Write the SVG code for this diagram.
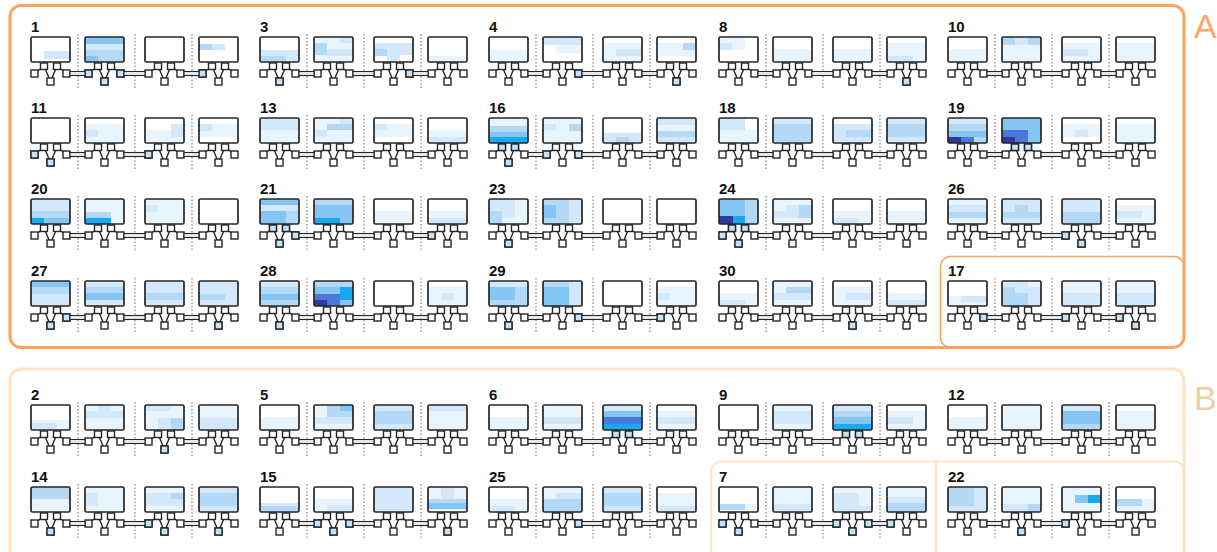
<svg xmlns="http://www.w3.org/2000/svg" width="1217" height="552" viewBox="0 0 1217 552">
<style>
.box{fill:none;stroke:#262626;stroke-width:1.7}
.sq{fill:#fff;stroke:#262626;stroke-width:1.4}
.sqb{fill:#c4e2f8;stroke:#262626;stroke-width:1.4}
.ln{fill:none;stroke:#262626;stroke-width:1.4}
.dot{stroke:#777;stroke-width:1.1;stroke-dasharray:1.5 2}
.bar{fill:#eeeeee;stroke:#262626;stroke-width:1.1}
.lbl{font-family:"Liberation Sans",Arial,sans-serif;font-weight:bold;font-size:15px;fill:#111}
.grp{font-family:"Liberation Sans",Arial,sans-serif;font-size:34px}
.c1{fill:#e8f4fe}.c2{fill:#d3e9fb}.c3{fill:#b3d9f7}.c4{fill:#84c5f2}.c5{fill:#19a8f2}.c6{fill:#2e3aa0}.c7{fill:#4a78dc}
</style>
<defs>
<g id="u">
<path class="ln" d="M13 29 L3.5 36.5 M13 29 L19.5 44.5 M26 29 L35.5 36.5 M26 29 L19.5 44.5"/>
<rect class="box" x="0" y="0" width="39" height="25" rx="1.5"/>
<rect class="sq" x="9.5" y="26" width="7" height="6.5"/>
<rect class="sq" x="22.5" y="26" width="7" height="6.5"/>
<rect class="sq" x="0" y="33" width="7" height="7"/>
<rect class="sq" x="32" y="33" width="7" height="7"/>
<rect class="sq" x="16" y="41" width="7" height="7"/>
</g>
<rect id="bL" class="sqb" x="0" y="33" width="7" height="7"/>
<rect id="bR" class="sqb" x="32" y="33" width="7" height="7"/>
<rect id="bC" class="sqb" x="16" y="41" width="7" height="7"/>
<rect id="bPa" class="sqb" x="9.5" y="26" width="7" height="6.5"/>
<rect id="bPb" class="sqb" x="22.5" y="26" width="7" height="6.5"/>
<g id="set">
<line class="dot" x1="47" y1="-3" x2="47" y2="53"/>
<line class="dot" x1="104" y1="-3" x2="104" y2="53"/>
<line class="dot" x1="161" y1="-3" x2="161" y2="53"/>
<use href="#u" x="0" y="0"/>
<use href="#u" x="54" y="0"/>
<use href="#u" x="114" y="0"/>
<use href="#u" x="168" y="0"/>
</g>
<g id="bars">
<rect class="bar" x="39" y="34.5" width="15" height="4"/>
<rect class="bar" x="93" y="34.5" width="21" height="4"/>
<rect class="bar" x="153" y="34.5" width="15" height="4"/>
</g>
</defs>

<g id="group-A">
<rect x="10" y="5.5" width="1174" height="342" rx="11" fill="none" stroke="#f8a560" stroke-width="3"/>
<rect x="940.5" y="256.5" width="243.5" height="91" rx="10" fill="none" stroke="#f8a560" stroke-width="1.5"/>
<text class="grp" x="1194" y="38" fill="#f9a86b">A</text>
</g>
<g id="group-B">
<rect x="10" y="369" width="1174" height="200" rx="11" fill="none" stroke="#fde4c4" stroke-width="3"/>
<rect x="711" y="461.5" width="473" height="110" rx="10" fill="none" stroke="#fde0bb" stroke-width="1.5"/>
<line x1="936" y1="461.5" x2="936" y2="552" stroke="#fde0bb" stroke-width="1.5"/>
<text class="grp" x="1194" y="410" fill="#ebcfa5">B</text>
</g>

<!-- Row A1 -->
<g id="cell-1" transform="translate(31,37)"><text class="lbl" x="0" y="-5">1</text>
<rect class="c2" x="13" y="14" width="26" height="8"/>
<rect class="c4" x="54" y="0" width="39" height="7"/><rect class="c2" x="54" y="7" width="39" height="6"/><rect class="c3" x="54" y="13" width="39" height="12"/><rect class="c4" x="54" y="19" width="13" height="6"/>
<rect class="c3" x="168" y="7" width="13" height="6"/><rect class="c2" x="181" y="7" width="13" height="6"/>
<use href="#set"/><use href="#bL" x="54"/><use href="#bR" x="54"/><use href="#bC" x="54"/><use href="#bL" x="168"/></g>
<g id="cell-3" transform="translate(260,37)"><text class="lbl" x="0" y="-5">3</text>
<rect class="c2" x="0" y="13" width="39" height="12"/><rect class="c3" x="0" y="19" width="26" height="6"/>
<rect class="c1" x="54" y="0" width="39" height="25"/><rect class="c3" x="54" y="6" width="13" height="12"/><rect class="c2" x="67" y="12" width="26" height="7"/><rect class="c2" x="80" y="0" width="13" height="6"/>
<rect class="c2" x="114" y="6" width="39" height="12"/><rect class="c3" x="114" y="12" width="13" height="7"/><rect class="c2" x="127" y="18" width="13" height="7"/>
<rect class="c1" x="168" y="19" width="39" height="6"/>
<use href="#set"/><use href="#bR" x="114"/><use href="#bC" x="0"/></g>
<g id="cell-4" transform="translate(489,37)"><text class="lbl" x="0" y="-5">4</text>
<rect class="c1" x="0" y="13" width="39" height="12"/>
<rect class="c2" x="54" y="0" width="39" height="8"/><rect class="c1" x="67" y="8" width="26" height="8"/>
<rect class="c1" x="114" y="6" width="39" height="19"/><rect class="c2" x="127" y="12" width="26" height="7"/>
<rect class="c1" x="168" y="6" width="39" height="13"/><rect class="c3" x="194" y="6" width="13" height="7"/>
<use href="#set"/><use href="#bR" x="54"/><use href="#bC" x="168"/></g>
<g id="cell-8" transform="translate(719,37)"><text class="lbl" x="0" y="-5">8</text>
<rect class="c1" x="0" y="0" width="26" height="13"/><rect class="c2" x="0" y="6" width="13" height="7"/>
<rect class="c1" x="54" y="12" width="39" height="13"/>
<rect class="c1" x="114" y="12" width="39" height="13"/>
<rect class="c1" x="168" y="6" width="39" height="19"/><rect class="c2" x="168" y="19" width="26" height="6"/>
<use href="#set"/><use href="#bC" x="168"/></g>
<g id="cell-10" transform="translate(948,37)"><text class="lbl" x="0" y="-5">10</text>
<rect class="c1" x="0" y="12" width="39" height="13"/>
<rect class="c3" x="54" y="0" width="39" height="8"/><rect class="c1" x="54" y="8" width="39" height="17"/><rect class="c2" x="67" y="0" width="13" height="8"/>
<rect class="c1" x="114" y="6" width="39" height="19"/><rect class="c2" x="114" y="12" width="26" height="7"/>
<rect class="c1" x="168" y="6" width="39" height="19"/>
<use href="#set"/></g>

<!-- Row A2 -->
<g id="cell-11" transform="translate(31,118)"><text class="lbl" x="0" y="-5">11</text>
<rect class="c1" x="54" y="6" width="39" height="19"/><rect class="c2" x="54" y="12" width="13" height="7"/>
<rect class="c1" x="114" y="12" width="39" height="13"/><rect class="c2" x="140" y="6" width="13" height="13"/>
<rect class="c1" x="168" y="6" width="39" height="13"/><rect class="c2" x="168" y="6" width="13" height="7"/>
<use href="#set"/><use href="#bL" x="0"/><use href="#bC" x="0"/><use href="#bL" x="114"/></g>
<g id="cell-13" transform="translate(260,118)"><text class="lbl" x="0" y="-5">13</text>
<rect class="c2" x="0" y="0" width="39" height="12"/><rect class="c1" x="0" y="12" width="39" height="13"/>
<rect class="c1" x="54" y="0" width="39" height="25"/><rect class="c3" x="67" y="6" width="26" height="6"/><rect class="c2" x="80" y="0" width="13" height="6"/><rect class="c2" x="54" y="12" width="13" height="7"/>
<rect class="c1" x="114" y="6" width="39" height="13"/><rect class="c2" x="114" y="6" width="13" height="6"/>
<rect class="c1" x="168" y="12" width="39" height="13"/><rect class="c2" x="168" y="19" width="39" height="6"/>
<use href="#set"/></g>
<g id="cell-16" transform="translate(489,118)"><text class="lbl" x="0" y="-5">16</text>
<rect class="c1" x="0" y="0" width="39" height="8"/><rect class="c3" x="0" y="8" width="39" height="6"/><rect class="c4" x="0" y="14" width="39" height="5"/><rect class="c5" x="0" y="19" width="39" height="6"/>
<rect class="c1" x="54" y="0" width="39" height="25"/><rect class="c2" x="54" y="6" width="13" height="6"/><rect class="c3" x="80" y="6" width="13" height="7"/>
<rect class="c2" x="114" y="15" width="39" height="10"/><rect class="c3" x="127" y="19" width="13" height="6"/>
<rect class="c2" x="168" y="0" width="39" height="7"/><rect class="c1" x="168" y="7" width="39" height="6"/><rect class="c3" x="168" y="13" width="39" height="6"/><rect class="c2" x="168" y="19" width="39" height="6"/>
<use href="#set"/><use href="#bPa" x="0"/><use href="#bPb" x="0"/><use href="#bC" x="0"/><use href="#bL" x="54"/><use href="#bR" x="54"/></g>
<g id="cell-18" transform="translate(719,118)"><text class="lbl" x="0" y="-5">18</text>
<rect class="c2" x="0" y="0" width="26" height="12"/><rect class="c1" x="0" y="12" width="39" height="13"/>
<rect class="c3" x="54" y="0" width="39" height="25"/><rect class="c2" x="54" y="0" width="39" height="6"/>
<rect class="c2" x="114" y="6" width="39" height="19"/><rect class="c3" x="127" y="12" width="26" height="7"/>
<rect class="c2" x="168" y="0" width="39" height="25"/><rect class="c3" x="168" y="6" width="39" height="13"/>
<use href="#set"/></g>
<g id="cell-19" transform="translate(948,118)"><text class="lbl" x="0" y="-5">19</text>
<rect class="c3" x="0" y="0" width="39" height="25"/><rect class="c2" x="0" y="0" width="39" height="6"/><rect class="c4" x="0" y="13" width="39" height="6"/><rect class="c6" x="0" y="19" width="13" height="6"/><rect class="c7" x="13" y="19" width="13" height="6"/>
<rect class="c4" x="54" y="0" width="39" height="25"/><rect class="c7" x="54" y="12" width="26" height="13"/><rect class="c6" x="54" y="19" width="13" height="6"/>
<rect class="c1" x="114" y="6" width="39" height="13"/><rect class="c2" x="127" y="12" width="13" height="7"/>
<rect class="c1" x="168" y="6" width="39" height="19"/>
<use href="#set"/><use href="#bPa" x="54"/><use href="#bPb" x="54"/></g>

<!-- Row A3 -->
<g id="cell-20" transform="translate(31,199)"><text class="lbl" x="0" y="-5">20</text>
<rect class="c2" x="0" y="0" width="39" height="12"/><rect class="c3" x="0" y="12" width="39" height="7"/><rect class="c4" x="0" y="19" width="39" height="6"/><rect class="c5" x="0" y="19" width="13" height="6"/>
<rect class="c1" x="54" y="0" width="39" height="25"/><rect class="c3" x="54" y="13" width="26" height="6"/><rect class="c5" x="54" y="19" width="26" height="6"/>
<rect class="c1" x="114" y="0" width="39" height="25"/><rect class="c2" x="114" y="6" width="13" height="7"/>
<use href="#set"/></g>
<g id="cell-21" transform="translate(260,199)"><text class="lbl" x="0" y="-5">21</text>
<rect class="c3" x="0" y="0" width="39" height="25"/><rect class="c4" x="0" y="0" width="39" height="6"/><rect class="c2" x="0" y="6" width="39" height="6"/><rect class="c4" x="0" y="12" width="26" height="13"/>
<rect class="c3" x="54" y="0" width="39" height="6"/><rect class="c4" x="54" y="6" width="39" height="19"/><rect class="c5" x="54" y="19" width="26" height="6"/>
<rect class="c1" x="114" y="12" width="39" height="13"/>
<rect class="c1" x="168" y="12" width="39" height="13"/><rect class="c2" x="168" y="19" width="39" height="6"/>
<use href="#set"/><use href="#bPa" x="0"/><use href="#bPb" x="0"/><use href="#bC" x="0"/><use href="#bR" x="0"/><use href="#bL" x="168"/></g>
<g id="cell-23" transform="translate(489,199)"><text class="lbl" x="0" y="-5">23</text>
<rect class="c1" x="0" y="0" width="39" height="25"/><rect class="c2" x="0" y="0" width="26" height="12"/><rect class="c3" x="0" y="12" width="13" height="13"/><rect class="c2" x="13" y="12" width="13" height="7"/>
<rect class="c3" x="54" y="0" width="39" height="25"/><rect class="c2" x="80" y="0" width="13" height="25"/><rect class="c4" x="54" y="6" width="13" height="13"/>
<use href="#set"/><use href="#bC" x="0"/></g>
<g id="cell-24" transform="translate(719,199)"><text class="lbl" x="0" y="-5">24</text>
<rect class="c4" x="0" y="0" width="39" height="25"/><rect class="c3" x="26" y="0" width="13" height="25"/><rect class="c6" x="0" y="17" width="14" height="8"/><rect class="c5" x="14" y="17" width="12" height="8"/>
<rect class="c1" x="54" y="0" width="39" height="25"/><rect class="c2" x="67" y="6" width="26" height="6"/><rect class="c3" x="80" y="6" width="13" height="13"/><rect class="c2" x="54" y="12" width="26" height="7"/>
<rect class="c1" x="114" y="12" width="39" height="13"/><rect class="c2" x="114" y="19" width="26" height="6"/>
<rect class="c1" x="168" y="12" width="39" height="13"/>
<use href="#set"/><use href="#bPa" x="0"/><use href="#bPb" x="0"/><use href="#bL" x="0"/><use href="#bC" x="0"/></g>
<g id="cell-26" transform="translate(948,199)"><text class="lbl" x="0" y="-5">26</text>
<rect class="c1" x="0" y="0" width="39" height="25"/><rect class="c2" x="0" y="6" width="39" height="7"/><rect class="c3" x="0" y="13" width="39" height="6"/>
<rect class="c2" x="54" y="0" width="39" height="25"/><rect class="c3" x="54" y="13" width="39" height="6"/><rect class="c3" x="67" y="6" width="13" height="7"/>
<rect class="c2" x="114" y="0" width="39" height="25"/><rect class="c3" x="114" y="13" width="39" height="12"/>
<rect class="c1" x="168" y="6" width="39" height="19"/><rect class="c2" x="168" y="12" width="26" height="7"/>
<use href="#set"/><use href="#bL" x="114"/><use href="#bC" x="114"/></g>

<!-- Row A4 -->
<g id="cell-27" transform="translate(31,281)"><text class="lbl" x="0" y="-5">27</text>
<rect class="c2" x="0" y="0" width="39" height="25"/><rect class="c4" x="0" y="0" width="39" height="6"/><rect class="c3" x="0" y="6" width="39" height="7"/>
<rect class="c2" x="54" y="0" width="39" height="25"/><rect class="c3" x="54" y="6" width="39" height="13"/><rect class="c4" x="54" y="12" width="39" height="7"/>
<rect class="c2" x="114" y="0" width="39" height="25"/><rect class="c3" x="114" y="12" width="39" height="7"/>
<rect class="c2" x="168" y="0" width="39" height="25"/><rect class="c3" x="168" y="13" width="26" height="6"/>
<use href="#set"/><use href="#bC" x="0"/><use href="#bR" x="0"/><use href="#bC" x="168"/></g>
<g id="cell-28" transform="translate(260,281)"><text class="lbl" x="0" y="-5">28</text>
<rect class="c3" x="0" y="0" width="39" height="25"/><rect class="c2" x="0" y="0" width="39" height="6"/><rect class="c4" x="0" y="13" width="39" height="6"/>
<rect class="c4" x="54" y="0" width="39" height="25"/><rect class="c3" x="54" y="0" width="39" height="6"/><rect class="c7" x="54" y="13" width="26" height="12"/><rect class="c6" x="54" y="19" width="13" height="6"/><rect class="c5" x="80" y="6" width="13" height="13"/>
<rect class="c1" x="168" y="6" width="39" height="19"/><rect class="c2" x="181" y="12" width="13" height="7"/>
<use href="#set"/><use href="#bC" x="0"/></g>
<g id="cell-29" transform="translate(489,281)"><text class="lbl" x="0" y="-5">29</text>
<rect class="c3" x="0" y="0" width="39" height="25"/><rect class="c2" x="0" y="0" width="39" height="6"/><rect class="c4" x="0" y="6" width="26" height="13"/>
<rect class="c3" x="54" y="0" width="39" height="25"/><rect class="c4" x="54" y="6" width="26" height="19"/><rect class="c2" x="80" y="0" width="13" height="25"/>
<rect class="c1" x="168" y="6" width="39" height="19"/><rect class="c2" x="168" y="12" width="13" height="7"/>
<use href="#set"/><use href="#bC" x="0"/><use href="#bR" x="54"/><use href="#bL" x="168"/></g>
<g id="cell-30" transform="translate(719,281)"><text class="lbl" x="0" y="-5">30</text>
<rect class="c1" x="0" y="12" width="39" height="13"/><rect class="c2" x="0" y="19" width="26" height="6"/>
<rect class="c1" x="54" y="0" width="39" height="25"/><rect class="c3" x="67" y="6" width="26" height="7"/><rect class="c2" x="54" y="12" width="39" height="7"/>
<rect class="c1" x="114" y="6" width="39" height="19"/><rect class="c2" x="127" y="12" width="26" height="7"/>
<rect class="c1" x="168" y="12" width="39" height="13"/><rect class="c2" x="168" y="19" width="39" height="6"/>
<use href="#set"/><use href="#bC" x="114"/></g>
<g id="cell-17" transform="translate(948,281)"><text class="lbl" x="0" y="-5">17</text>
<rect class="c1" x="0" y="15" width="39" height="10"/><rect class="c2" x="13" y="15" width="26" height="6"/>
<rect class="c2" x="54" y="0" width="39" height="25"/><rect class="c3" x="54" y="6" width="13" height="19"/><rect class="c3" x="67" y="12" width="13" height="13"/><rect class="c1" x="80" y="0" width="13" height="6"/>
<rect class="c1" x="114" y="0" width="39" height="25"/><rect class="c2" x="114" y="12" width="39" height="13"/>
<rect class="c1" x="168" y="0" width="39" height="12"/><rect class="c2" x="168" y="12" width="39" height="13"/>
<use href="#set"/><use href="#bR" x="0"/><use href="#bL" x="114"/><use href="#bL" x="168"/><use href="#bC" x="168"/></g>

<!-- Row B1 -->
<g id="cell-2" transform="translate(31,405)"><text class="lbl" x="0" y="-5">2</text>
<rect class="c1" x="0" y="15" width="39" height="10"/><rect class="c2" x="0" y="18" width="26" height="7"/>
<rect class="c1" x="54" y="0" width="39" height="25"/><rect class="c2" x="54" y="6" width="39" height="7"/><rect class="c2" x="67" y="0" width="13" height="6"/>
<rect class="c1" x="114" y="0" width="39" height="25"/><rect class="c2" x="114" y="0" width="26" height="6"/><rect class="c2" x="127" y="13" width="26" height="12"/><rect class="c3" x="140" y="13" width="13" height="12"/>
<rect class="c1" x="168" y="0" width="39" height="25"/><rect class="c2" x="168" y="13" width="39" height="12"/>
<use href="#set"/><use href="#bC" x="114"/></g>
<g id="cell-5" transform="translate(260,405)"><text class="lbl" x="0" y="-5">5</text>
<rect class="c1" x="0" y="12" width="39" height="13"/>
<rect class="c1" x="54" y="0" width="39" height="25"/><rect class="c3" x="67" y="0" width="26" height="12"/><rect class="c4" x="80" y="0" width="13" height="6"/><rect class="c2" x="54" y="12" width="39" height="7"/>
<rect class="c2" x="114" y="0" width="39" height="25"/><rect class="c3" x="114" y="6" width="39" height="13"/>
<rect class="c1" x="168" y="0" width="39" height="25"/><rect class="c2" x="168" y="0" width="39" height="6"/>
<use href="#set"/></g>
<g id="cell-6" transform="translate(489,405)"><text class="lbl" x="0" y="-5">6</text>
<rect class="c1" x="0" y="12" width="39" height="13"/>
<rect class="c1" x="54" y="0" width="39" height="25"/><rect class="c2" x="54" y="12" width="39" height="7"/>
<rect class="c2" x="114" y="0" width="39" height="6"/><rect class="c4" x="114" y="6" width="39" height="6"/><rect class="c7" x="114" y="12" width="39" height="7"/><rect class="c5" x="114" y="19" width="39" height="6"/>
<rect class="c1" x="168" y="6" width="39" height="19"/><rect class="c2" x="168" y="12" width="39" height="7"/>
<use href="#set"/><use href="#bPa" x="114"/><use href="#bPb" x="114"/></g>
<g id="cell-9" transform="translate(719,405)"><text class="lbl" x="0" y="-5">9</text>
<rect class="c1" x="54" y="0" width="39" height="25"/><rect class="c2" x="54" y="6" width="39" height="13"/>
<rect class="c2" x="114" y="0" width="39" height="6"/><rect class="c3" x="114" y="6" width="39" height="6"/><rect class="c4" x="114" y="12" width="39" height="7"/><rect class="c5" x="114" y="19" width="39" height="6"/>
<rect class="c1" x="168" y="6" width="39" height="19"/><rect class="c2" x="168" y="12" width="26" height="7"/>
<use href="#set"/><use href="#bPa" x="114"/><use href="#bPb" x="114"/></g>
<g id="cell-12" transform="translate(948,405)"><text class="lbl" x="0" y="-5">12</text>
<rect class="c1" x="0" y="12" width="39" height="13"/>
<rect class="c1" x="54" y="0" width="39" height="25"/>
<rect class="c3" x="114" y="0" width="39" height="25"/><rect class="c2" x="114" y="0" width="39" height="6"/><rect class="c4" x="114" y="6" width="39" height="13"/>
<rect class="c1" x="168" y="6" width="39" height="19"/>
<use href="#set"/></g>

<!-- Row B2 -->
<g id="cell-14" transform="translate(31,487)"><text class="lbl" x="0" y="-5">14</text>
<rect class="c1" x="0" y="0" width="39" height="25"/><rect class="c3" x="0" y="0" width="39" height="12"/>
<rect class="c1" x="54" y="0" width="39" height="25"/><rect class="c2" x="54" y="6" width="13" height="13"/>
<rect class="c1" x="114" y="0" width="39" height="25"/><rect class="c2" x="114" y="6" width="39" height="13"/><rect class="c3" x="140" y="6" width="13" height="6"/>
<rect class="c2" x="168" y="0" width="39" height="25"/><rect class="c3" x="168" y="6" width="39" height="13"/>
<use href="#set"/><use href="#bC" x="0"/><use href="#bL" x="114"/><use href="#bC" x="114"/><use href="#bC" x="168"/></g>
<g id="cell-15" transform="translate(260,487)"><text class="lbl" x="0" y="-5">15</text>
<rect class="c3" x="0" y="16" width="39" height="9"/><rect class="c2" x="0" y="16" width="39" height="3"/>
<rect class="c1" x="54" y="12" width="39" height="13"/><rect class="c2" x="67" y="18" width="26" height="7"/>
<rect class="c2" x="114" y="0" width="39" height="25"/>
<rect class="c1" x="168" y="0" width="39" height="25"/><rect class="c3" x="168" y="12" width="39" height="7"/><rect class="c4" x="168" y="16" width="39" height="6"/><rect class="c2" x="181" y="0" width="13" height="12"/>
<use href="#set"/><use href="#bL" x="54"/><use href="#bR" x="54"/><use href="#bC" x="54"/><use href="#bC" x="168"/></g>
<g id="cell-25" transform="translate(489,487)"><text class="lbl" x="0" y="-5">25</text>
<rect class="c1" x="0" y="12" width="39" height="13"/><rect class="c2" x="0" y="19" width="26" height="6"/>
<rect class="c1" x="54" y="0" width="39" height="25"/><rect class="c3" x="54" y="12" width="39" height="13"/><rect class="c2" x="67" y="6" width="26" height="6"/>
<rect class="c2" x="114" y="0" width="39" height="25"/><rect class="c3" x="114" y="6" width="39" height="13"/>
<rect class="c1" x="168" y="6" width="39" height="19"/><rect class="c2" x="168" y="19" width="39" height="6"/>
<use href="#set"/><use href="#bR" x="54"/></g>
<g id="cell-7" transform="translate(719,487)"><text class="lbl" x="0" y="-5">7</text>
<rect class="c1" x="0" y="17" width="39" height="8"/><rect class="c3" x="0" y="17" width="26" height="6"/>
<rect class="c1" x="54" y="0" width="39" height="25"/><rect class="c2" x="54" y="17" width="39" height="8"/>
<rect class="c1" x="114" y="0" width="39" height="25"/><rect class="c2" x="114" y="6" width="26" height="13"/><rect class="c2" x="114" y="19" width="39" height="6"/>
<rect class="c1" x="168" y="0" width="39" height="25"/><rect class="c2" x="168" y="10" width="39" height="6"/><rect class="c3" x="168" y="16" width="39" height="9"/>
<use href="#set"/><use href="#bL" x="0"/><use href="#bC" x="0"/><use href="#bL" x="114"/><use href="#bR" x="114"/><use href="#bC" x="114"/><use href="#bL" x="168"/></g>
<g id="cell-22" transform="translate(948,487)"><text class="lbl" x="0" y="-5">22</text>
<rect class="c2" x="0" y="0" width="39" height="25"/><rect class="c3" x="0" y="0" width="26" height="19"/>
<rect class="c1" x="54" y="0" width="39" height="25"/><rect class="c2" x="54" y="17" width="39" height="8"/><rect class="c3" x="80" y="17" width="13" height="8"/>
<rect class="c1" x="114" y="0" width="39" height="25"/><rect class="c4" x="127" y="8" width="13" height="8"/><rect class="c5" x="140" y="8" width="13" height="8"/>
<rect class="c1" x="168" y="12" width="39" height="13"/><rect class="c3" x="168" y="12" width="26" height="7"/>
<use href="#set"/><use href="#bC" x="54"/><use href="#bL" x="114"/></g>

<g id="connectors">
<use href="#bars" x="31" y="37"/><use href="#bars" x="260" y="37"/><use href="#bars" x="489" y="37"/><use href="#bars" x="719" y="37"/><use href="#bars" x="948" y="37"/>
<use href="#bars" x="31" y="118"/><use href="#bars" x="260" y="118"/><use href="#bars" x="489" y="118"/><use href="#bars" x="719" y="118"/><use href="#bars" x="948" y="118"/>
<use href="#bars" x="31" y="199"/><use href="#bars" x="260" y="199"/><use href="#bars" x="489" y="199"/><use href="#bars" x="719" y="199"/><use href="#bars" x="948" y="199"/>
<use href="#bars" x="31" y="281"/><use href="#bars" x="260" y="281"/><use href="#bars" x="489" y="281"/><use href="#bars" x="719" y="281"/><use href="#bars" x="948" y="281"/>
<use href="#bars" x="31" y="405"/><use href="#bars" x="260" y="405"/><use href="#bars" x="489" y="405"/><use href="#bars" x="719" y="405"/><use href="#bars" x="948" y="405"/>
<use href="#bars" x="31" y="487"/><use href="#bars" x="260" y="487"/><use href="#bars" x="489" y="487"/><use href="#bars" x="719" y="487"/><use href="#bars" x="948" y="487"/>
</g>
</svg>
